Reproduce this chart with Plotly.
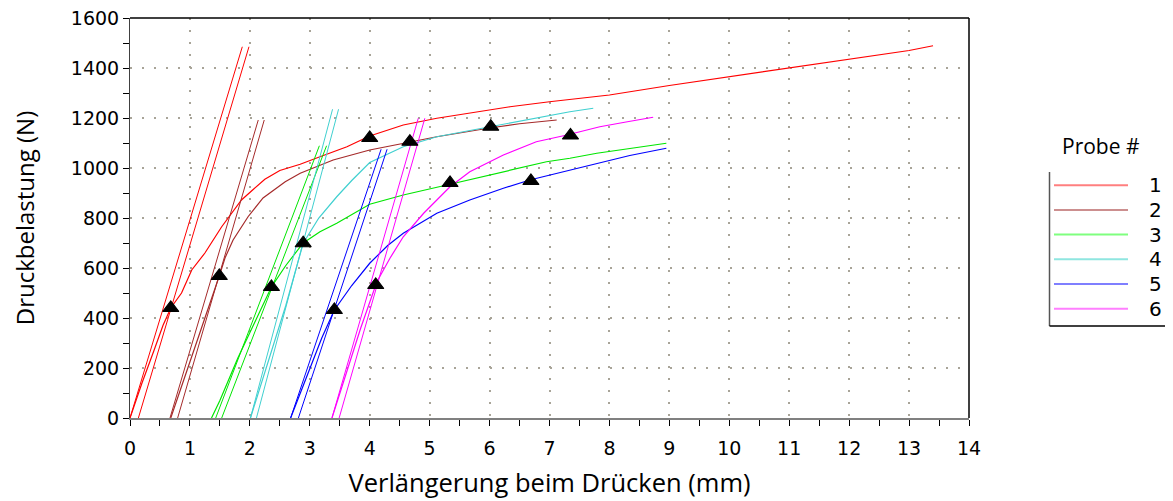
import plotly.graph_objects as go

# ---------------- data ----------------
probe_names = ["1", "2", "3", "4", "5", "6"]
probe_colors = ["#ff0000", "#a52a2a", "#00e600", "#40d0d0", "#0000ff", "#ff00ff"]
legend_colors = ["#ff7f7f", "#cc8f8f", "#7fff7f", "#8fe6e0", "#7f7fff", "#ff7fff"]

# curves (Verlängerung mm, Druckbelastung N)
c1_x = [0.0, 0.2, 0.4, 0.55, 0.68, 0.86, 1.03, 1.25, 1.53, 1.72, 1.86, 2.06, 2.25, 2.5, 2.84, 3.17, 3.62, 4.0, 4.56, 5.12, 5.67, 6.34, 7.0, 8.0, 9.0, 10.0, 11.0, 12.0, 13.0, 13.4]
c1_y = [0, 140, 270, 370, 440, 500, 592, 660, 765, 825, 872, 915, 955, 990, 1015, 1045, 1085, 1128, 1172, 1199, 1219, 1245, 1265, 1292, 1330, 1365, 1398, 1432, 1470, 1489]

c2_x = [0.68, 1.0, 1.25, 1.49, 1.585, 1.72, 1.97, 2.22, 2.59, 2.84, 3.39, 4.0, 4.56, 5.12, 6.0, 6.5, 7.12]
c2_y = [0, 220, 400, 568, 640, 712, 805, 880, 945, 979, 1032, 1072, 1099, 1125, 1160, 1177, 1192]

c3_x = [1.36, 1.5, 1.8, 2.1, 2.36, 2.6, 2.89, 3.17, 3.45, 4.0, 4.56, 5.34, 6.23, 6.95, 7.34, 7.79, 8.4, 8.95]
c3_y = [0, 70, 240, 390, 524, 610, 700, 745, 779, 855, 892, 935, 985, 1025, 1039, 1059, 1080, 1099]

c4_x = [2.01, 2.3, 2.6, 2.89, 3.15, 3.45, 3.7, 4.0, 4.56, 5.12, 6.0, 6.95, 7.34, 7.73]
c4_y = [0, 220, 450, 699, 800, 885, 950, 1022, 1085, 1125, 1165, 1210, 1225, 1239]

c5_x = [2.68, 2.95, 3.2, 3.41, 3.7, 4.0, 4.3, 4.56, 5.12, 5.67, 6.23, 6.67, 7.34, 7.8, 8.34, 8.95]
c5_y = [0, 170, 320, 432, 530, 619, 690, 739, 819, 872, 919, 952, 992, 1020, 1050, 1079]

c6_x = [3.37, 3.6, 3.85, 4.12, 4.34, 4.56, 4.9, 5.34, 5.67, 6.23, 6.78, 7.29, 7.84, 8.3, 8.73]
c6_y = [0, 170, 360, 545, 640, 725, 819, 925, 985, 1052, 1105, 1132, 1165, 1185, 1203]

curves_x = [c1_x, c2_x, c3_x, c4_x, c5_x, c6_x]
curves_y = [c1_y, c2_y, c3_y, c4_y, c5_y, c6_y]

# two straight (slope) lines per probe: start x, end x, end y (start y = 0)
lineA_x0 = [0.0, 0.667, 1.43, 2.01, 2.68, 3.37]
lineA_x1 = [1.874, 2.14, 3.16, 3.38, 4.19, 4.81]
lineB_x0 = [0.14, 0.795, 1.53, 2.11, 2.81, 3.49]
lineB_x1 = [1.985, 2.24, 3.28, 3.48, 4.29, 4.92]
line_top_y = [1485, 1192, 1089, 1235, 1075, 1199]

# triangle markers
tri_x = [0.68, 1.49, 2.36, 2.89, 3.41, 4.10, 4.0, 4.67, 5.34, 6.02, 6.69, 7.35]
tri_y = [440, 568, 524, 699, 432, 532, 1120, 1105, 940, 1165, 948, 1130]

x_ticks = list(range(0, 15))
y_ticks = list(range(0, 1601, 200))

# ---------------- figure ----------------
OFF = 8  # page body margin
W, H = 1165, 493
ML, MR, MT, MB = 122, 204, 10, 83
PW, PH = W - ML - MR, H - MT - MB

def px2paper(px, py):
    return (px - OFF - ML) / PW, (H - MB - (py - OFF)) / PH

fig = go.Figure()

for i in range(6):
    col = probe_colors[i]
    fig.add_trace(go.Scatter(x=[lineA_x0[i], lineA_x1[i]], y=[0, line_top_y[i]],
                             mode="lines", line=dict(color=col, width=1),
                             showlegend=False, hoverinfo="skip"))
    fig.add_trace(go.Scatter(x=[lineB_x0[i], lineB_x1[i]], y=[0, line_top_y[i]],
                             mode="lines", line=dict(color=col, width=1),
                             showlegend=False, hoverinfo="skip"))
    fig.add_trace(go.Scatter(x=curves_x[i], y=curves_y[i], mode="lines",
                             line=dict(color=col, width=1.2), name=probe_names[i],
                             showlegend=False))

fig.add_trace(go.Scatter(x=tri_x, y=tri_y, mode="markers",
                         marker=dict(symbol="triangle-up", size=14, color="black",
                                     line=dict(color="black", width=1.2)),
                         showlegend=False))

tick_font = dict(family="DejaVu Sans", size=19, color="black")
title_font = dict(family="Open Sans", size=25.5, color="black")

grid = dict(showgrid=True, gridcolor="#a8a498", griddash="2px,10px", gridwidth=1.5)

fig.update_xaxes(range=[0, 14], tickvals=x_ticks, ticktext=[str(v) for v in x_ticks],
                 automargin=False, ticklabeloverflow="allow",
                 showline=True, linecolor="#808080", linewidth=2,
                 ticks="outside", ticklen=6, tickcolor="black", tickwidth=1,
                 minor=dict(dtick=0.5, tick0=0, ticks="outside", ticklen=6, tickcolor="black", showgrid=False),
                 zeroline=False, tickfont=tick_font, ticklabelstandoff=6,
                 title=dict(text="Verlängerung beim Drücken (mm)", font=title_font, standoff=16),
                 **grid)
fig.update_yaxes(range=[0, 1600], tickvals=y_ticks, ticktext=[str(v) for v in y_ticks],
                 automargin=False, ticklabeloverflow="allow",
                 showline=True, linecolor="#404040", linewidth=1,
                 ticks="outside", ticklen=6, tickcolor="black", tickwidth=1,
                 minor=dict(dtick=100, tick0=0, ticks="outside", ticklen=6, tickcolor="black", showgrid=False),
                 zeroline=False, tickfont=tick_font,
                 title=dict(text="Druckbelastung (N)", font=dict(family="Open Sans", size=24, color="black"), standoff=32),
                 **grid)

shapes = [
    dict(type="line", xref="x domain", yref="y domain", x0=0, x1=1, y0=1, y1=1,
         line=dict(color="black", width=1.5)),
    dict(type="line", xref="x domain", yref="y domain", x0=1, x1=1, y0=0, y1=1,
         line=dict(color="black", width=1.5)),
]

# custom legend
bx0, by0 = px2paper(1049.5, 172)
bx1, by1 = px2paper(1167, 326)
shapes += [
    dict(type="line", xref="paper", yref="paper", x0=bx0, x1=bx0, y0=by0, y1=by1, line=dict(color="#555555", width=1.5)),
    dict(type="line", xref="paper", yref="paper", x0=bx1, x1=bx1, y0=by0, y1=by1, line=dict(color="black", width=1.5)),
    dict(type="line", xref="paper", yref="paper", x0=bx0, x1=bx1, y0=by1, y1=by1, line=dict(color="black", width=1.5)),
]
annotations = []
tx, ty = px2paper(1101, 146)
annotations.append(dict(text="Probe #", x=tx, y=ty, xref="paper", yref="paper", showarrow=False,
                        xanchor="center", yanchor="middle", font=dict(family="Open Sans", size=21, color="black")))
for i, name in enumerate(probe_names):
    py = 185.2 + i * 24.7
    lx0, ly = px2paper(1054, py)
    lx1, _ = px2paper(1128, py)
    shapes.append(dict(type="line", xref="paper", yref="paper", x0=lx0, x1=lx1, y0=ly, y1=ly,
                       line=dict(color=legend_colors[i], width=2)))
    nx, ny = px2paper(1164, py)
    annotations.append(dict(text=name, x=nx, y=ny, xref="paper", yref="paper", showarrow=False,
                            xanchor="right", yanchor="middle", font=dict(family="DejaVu Sans", size=20, color="black")))

fig.update_layout(width=W, height=H, margin=dict(l=ML, r=MR, t=MT, b=MB, autoexpand=False),
                  plot_bgcolor="white", paper_bgcolor="white",
                  shapes=shapes, annotations=annotations, showlegend=False)

fig.write_html("out.html")
